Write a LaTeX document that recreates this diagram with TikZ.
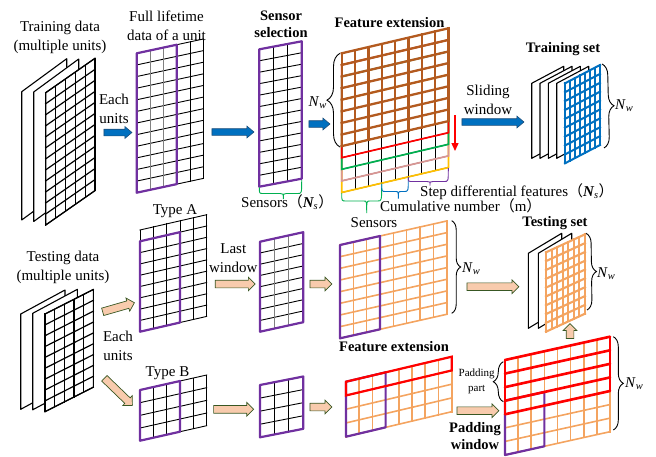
\documentclass[tikz,border=0pt]{standalone}
\usepackage{fontspec}
\setmainfont{Liberation Serif}
\newfontfamily\cjk{Noto Sans CJK SC}
\usetikzlibrary{shapes.arrows,decorations.pathreplacing,arrows.meta}
\definecolor{purp}{HTML}{7030A0}
\definecolor{brn}{HTML}{B35A1F}
\definecolor{blu}{HTML}{0070C0}
\definecolor{blueedge}{HTML}{1F4E79}
\definecolor{tanfill}{HTML}{F8CBAD}
\definecolor{tanedge}{HTML}{385723}
\definecolor{org}{HTML}{F4A460}
\definecolor{grn}{HTML}{00B050}
\definecolor{pnk}{HTML}{D99694}
\definecolor{ylw}{HTML}{FFC000}
\newcommand\setgrid[7]{\def\gx{#1}\def\gy{#2}\def\gw{#3}\def\gh{#4}\def\gs{#5}\def\gnc{#6}\def\gnr{#7}}
\newcommand\gline[5][]{\draw[#1] ({\gx+(#2)*\gw/\gnc},{\gy+(#3)*\gh/\gnr-(#2)*\gs/\gnc}) -- ({\gx+(#4)*\gw/\gnc},{\gy+(#5)*\gh/\gnr-(#4)*\gs/\gnc});}
\newcommand\gbox[5][]{\draw[#1] ({\gx+(#2)*\gw/\gnc},{\gy+(#4)*\gh/\gnr-(#2)*\gs/\gnc}) -- ({\gx+(#3)*\gw/\gnc},{\gy+(#4)*\gh/\gnr-(#3)*\gs/\gnc}) -- ({\gx+(#3)*\gw/\gnc},{\gy+(#5)*\gh/\gnr-(#3)*\gs/\gnc}) -- ({\gx+(#2)*\gw/\gnc},{\gy+(#5)*\gh/\gnr-(#2)*\gs/\gnc}) -- cycle;}
\newcommand\ggrid[5][]{\foreach \ci in {#2,...,#3}{\gline[#1]{\ci}{#4}{\ci}{#5}}\foreach \ri in {#4,...,#5}{\gline[#1]{#2}{\ri}{#3}{\ri}}}
\newcommand\hbr[8][]{\draw[#1] (#2,#3) .. controls (#2,#6) .. ({#2+4},#6) -- ({#7-3},#6) .. controls (#7,#6) .. (#7,#8) .. controls (#7,#6) .. ({#7+3},#6) -- ({#4-4},#6) .. controls (#4,#6) .. (#4,#5);}
\newcommand\Nw{\textit{N}\textsubscript{\textit{w}}}
\newcommand\Ns{{\bfseries\itshape N}\textsubscript{\itshape s}}
\begin{document}
\begin{tikzpicture}[x=1pt,y=-1pt,
  font=\fontsize{15}{19}\selectfont,
  txt/.style={inner sep=0, align=center},
  bld/.style={txt, font=\fontsize{14.5}{17.5}\selectfont\bfseries},
  barrow/.style={single arrow, draw=blueedge, fill=blu, line width=0.6, inner xsep=0, inner ysep=3, single arrow head extend=2.6, single arrow tip angle=80, minimum width=0},
  tarrow/.style={single arrow, draw=tanedge, fill=tanfill, line width=0.7, inner xsep=0, inner ysep=3.5, single arrow head extend=3, single arrow tip angle=90, minimum width=0},
  vbr/.style={decorate, decoration={brace, amplitude=#1}, line width=0.9},
  gl/.style={line width=0.9, line cap=rect},
  sheet/.style={fill=white, draw=black, line width=1.1, line join=round},
  pbox/.style={draw=purp, line width=2.2, line join=round},
]
\useasboundingbox (0,0) rectangle (656,456);

% ---------- training data stack
\setgrid{21.7}{91.7}{45}{128.3}{33}{1}{1}\gbox[sheet]{0}{1}{0}{1}
\setgrid{33.7}{92}{45}{129.5}{33}{1}{1}\gbox[sheet]{0}{1}{0}{1}
\setgrid{45.7}{92.7}{49.3}{132.3}{34.4}{5}{12}\gbox[sheet]{0}{5}{0}{12}
\ggrid[gl, line width=1.2]{0}{5}{0}{12}

% ---------- full lifetime
\setgrid{136.7}{53.3}{66.7}{139.4}{14.3}{5}{12}
\ggrid[gl]{0}{5}{0}{12}
\gline[gl, gray]{1}{0}{1}{12}\gline[gl, gray]{2}{0}{2}{12}
\gbox[pbox]{0}{3}{0}{12}

% ---------- sensor selection
\setgrid{259.3}{49.3}{42.4}{137.4}{8}{3}{12}
\ggrid[gl]{0}{3}{0}{12}
\gbox[pbox]{0}{3}{0}{12}
\hbr[grn, line width=0.9]{259.3}{187.5}{301.7}{180}{193.5}{283.3}{199}

% ---------- feature extension (top)
\setgrid{341.7}{53.3}{106.7}{139.2}{25}{8}{12}
\ggrid[gl]{0}{8}{8}{12}
\gbox[draw=ylw, line width=1.7]{0}{8}{4}{12}
\gbox[draw=pnk, line width=1.7]{0}{8}{3}{11}
\gbox[draw=grn, line width=1.7]{0}{8}{2}{10}
\gbox[draw=red, line width=1.7]{0}{8}{1}{9}
\ggrid[brn, line width=2.3, line cap=rect]{0}{8}{0}{8}
\hbr[grn, line width=0.9]{341.7}{193}{381.7}{183.7}{201}{366.7}{213}
\hbr[blu, line width=0.9]{381.7}{183.7}{408.3}{177.4}{191.5}{398.3}{198.5}
\hbr[purp, line width=0.9]{408.3}{177.4}{448.3}{168.2}{181.5}{430}{185.5}
\draw[vbr=13pt] (340,147) -- (340,53.3);
\node[txt, anchor=east] (nw1) at (327,103) {\Nw};
\draw[red, line width=1.4, -{Triangle[length=8pt,width=7pt]}] (455,115) -- (455,151);

% ---------- training set
\foreach \sx in {531.7,540,548.3,556.7}{\setgrid{\sx}{83.3}{32}{75}{17}{1}{1}\gbox[sheet]{0}{1}{0}{1}}
\setgrid{565}{83.3}{35}{80}{18.3}{7}{9}
\gbox[fill=white, draw=none]{0}{7}{0}{9}
\ggrid[blu, line width=2, line cap=rect]{0}{7}{0}{9}
\draw[vbr=11pt] (602,64) -- (604,148);
\node[txt, anchor=west] (nw2) at (615,106) {\Nw};

% ---------- blue arrows
\node[barrow, minimum height=28] (ba1) at (116,132.5) {};
\node[barrow, minimum height=42] (ba2) at (231,132) {};
\node[barrow, minimum height=21] (ba3) at (317.5,124) {};
\node[barrow, minimum height=62] (ba4) at (491,122) {};

% ---------- testing data stack
\setgrid{20.7}{314}{44.3}{95.3}{24}{1}{1}\gbox[sheet]{0}{1}{0}{1}
\setgrid{32.7}{313.3}{44.7}{96.5}{24}{1}{1}\gbox[sheet]{0}{1}{0}{1}
\setgrid{45}{314}{48.3}{97.7}{24.5}{5}{9}\gbox[sheet]{0}{5}{0}{9}
\ggrid[gl, line width=1.2]{0}{5}{0}{9}

% ---------- type A
\setgrid{140}{230}{66.7}{101.7}{15.3}{5}{9}
\ggrid[gl]{0}{5}{0}{9}
\gbox[pbox]{0}{3}{1}{9}
\setgrid{260}{241.7}{43.3}{90}{9.5}{3}{8}
\ggrid[gl]{0}{3}{0}{8}
\gline[gl, gray]{1}{0}{1}{8}\gline[gl, gray]{2}{0}{2}{8}
\gbox[pbox]{0}{3}{0}{8}
\setgrid{340}{245}{106.7}{93.3}{24}{8}{8}
\ggrid[org, line width=1.6, line cap=rect]{0}{8}{0}{8}
\gbox[pbox]{0}{3}{0}{8}
\draw[vbr=9pt] (451.7,220.7) -- (451.7,313.3);
\node[txt, anchor=west] (nw3) at (462,269) {\Nw};

% ---------- testing set
\setgrid{528.3}{253.3}{33.4}{75}{20}{1}{1}\gbox[sheet]{0}{1}{0}{1}
\setgrid{538.3}{253.3}{33.4}{75}{20}{1}{1}\gbox[sheet]{0}{1}{0}{1}
\setgrid{546}{252.3}{39}{79.4}{18}{7}{9}
\gbox[fill=white, draw=none]{0}{7}{0}{9}
\ggrid[org, line width=2.1, line cap=rect]{0}{7}{0}{9}
\draw[vbr=10pt] (586,233.3) -- (587,310);
\node[txt, anchor=west] (nw4) at (597,274) {\Nw};

% ---------- type B
\setgrid{140}{390}{66.7}{50.7}{15}{5}{4}
\ggrid[gl]{0}{5}{0}{4}
\gbox[pbox]{0}{3}{0}{4}
\setgrid{260}{385}{43.3}{52.3}{8.5}{3}{4}
\ggrid[gl]{0}{3}{0}{4}
\gbox[pbox]{0}{3}{0}{4}
\setgrid{346}{381.7}{105.7}{55}{25}{8}{4}
\ggrid[org, line width=1.6, line cap=rect]{0}{8}{0}{4}
\gbox[pbox]{0}{3}{0}{4}
\gbox[draw=red, line width=2.2]{0}{8}{0}{1}

% ---------- padding window
\setgrid{505}{360}{105}{95}{23.3}{8}{7}
\ggrid[org, line width=1.6, line cap=rect]{0}{8}{0}{7}
\gbox[pbox]{0}{3}{3}{7}
\foreach \r in {0,...,4}{\gline[red, line width=2.6, line cap=round]{0}{\r}{8}{\r}}
\gline[red, line width=2.6]{0}{0}{0}{4}
\gline[red, line width=2.6]{8}{0}{8}{4}
\draw[vbr=10pt] (503.3,401.7) -- (503.3,361.7);
\draw[vbr=10pt] (613.3,336.7) -- (613.3,430);
\node[txt, anchor=west] (nw5) at (625,384) {\Nw};

% ---------- tan arrows
\node[tarrow, minimum height=33, rotate=16] (ta1) at (116.7,307.8) {};
\node[tarrow, minimum height=39, rotate=-44] (ta2) at (117,390.5) {};
\node[tarrow, minimum height=40] (ta3) at (233.3,284) {};
\node[tarrow, minimum height=22] (ta4) at (319,284) {};
\node[tarrow, minimum height=52] (ta5) at (491,286.7) {};
\node[tarrow, minimum height=15, rotate=90] (ta6) at (570,333) {};
\node[tarrow, minimum height=40] (ta7) at (231.7,409.3) {};
\node[tarrow, minimum height=22] (ta8) at (319,407) {};
\node[tarrow, minimum height=42] (ta9) at (476,410.7) {};

% ---------- texts
\node[txt] (tdata) at (60,37) {Training data\\(multiple units)};
\node[txt] (full) at (166.5,26) {Full lifetime\\data of a unit};
\node[bld] (ssel) at (281,24.5) {Sensor\\selection};
\node[txt] (each1) at (114,108.5) {Each\\units};
\node[txt, anchor=west] (sens1) at (241,202) {Sensors{\cjk（}\Ns{\cjk）}};
\node[bld] (fext1) at (389.5,22.5) {Feature extension};
\node[txt] (slide) at (488,99.5) {Sliding\\window};
\node[bld] (trset) at (563,49) {Training set};
\node[txt, anchor=west] (stepd) at (420,192) {Step differential features{\cjk（}\Ns{\cjk）}};
\node[txt, anchor=west] (cumu) at (380,206) {Cumulative number{\cjk（}m{\cjk）}};
\node[txt] (sens2) at (374,222.5) {Sensors};
\node[txt] (typea) at (175,211) {Type A};
\node[txt] (tedata) at (63,267.5) {Testing data\\(multiple units)};
\node[txt] (lastw) at (233.3,258.3) {Last\\window};
\node[txt] (each2) at (118,346) {Each\\units};
\node[txt] (typeb) at (167.5,372.7) {Type B};
\node[bld] (teset) at (555,222.7) {Testing set};
\node[bld] (fext2) at (394,346.7) {Feature extension};
\node[txt, font=\fontsize{11}{15}\selectfont] (padp) at (476.7,381) {Padding\\part};
\node[bld] (padw) at (475,436) {Padding\\window};
\end{tikzpicture}
\end{document}
